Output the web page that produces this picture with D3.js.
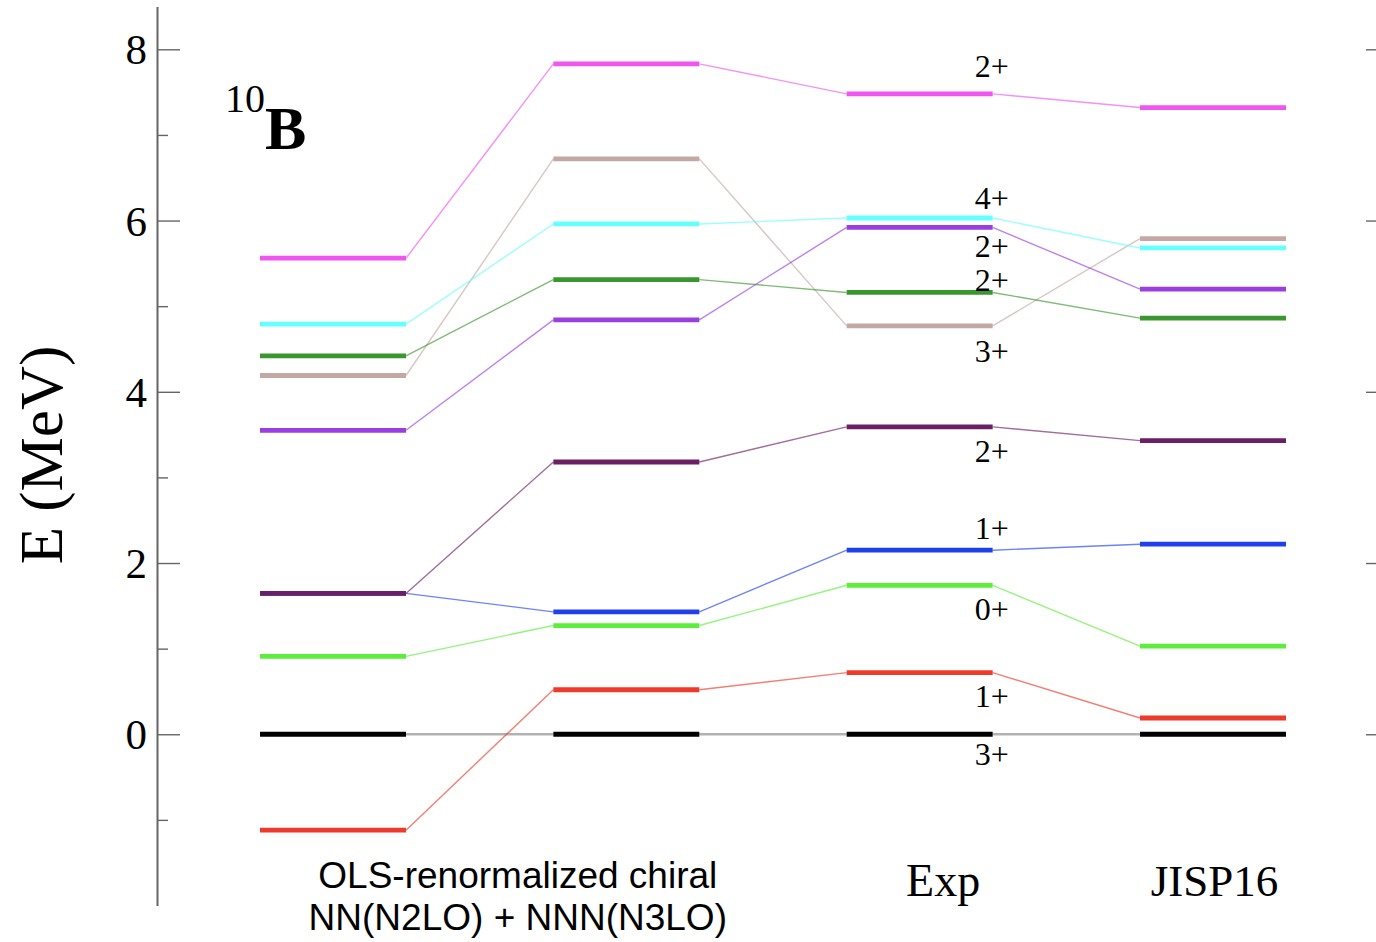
<!DOCTYPE html>
<html>
<head>
<meta charset="utf-8">
<script src="https://cdn.jsdelivr.net/npm/d3@7"></script>
<style>
body { margin: 0; background: #fff; }
svg { display: block; }
text { font-family: "Liberation Serif", "Times New Roman", serif; fill: #000; }
.sans { font-family: "Liberation Sans", Arial, sans-serif; }
.axis path, .axis line { stroke: #666; }
.axis path { stroke-width: 1.6; }
.axis line { stroke-width: 1.4; }
</style>
</head>
<body>
<script>
var width = 1376,
    height = 942;

// excitation energies (MeV), one array per calculation, same state order
var spins  = ["3+", "1+", "0+", "1+", "2+", "3+", "2+", "2+", "4+", "2+"];
var olsA   = [0, -1.12, 0.91, 1.645, 1.645, 4.19, 4.42, 3.55, 4.79, 5.56];
var olsB   = [0, 0.52, 1.27, 1.43, 3.18, 6.72, 5.31, 4.84, 5.96, 7.83];
var expt   = [0, 0.72, 1.74, 2.15, 3.59, 4.77, 5.16, 5.92, 6.03, 7.48];
var jisp16 = [0, 0.19, 1.03, 2.22, 3.43, 5.79, 4.86, 5.20, 5.68, 7.32];

var columns = [olsA, olsB, expt, jisp16];
var majorTicks = [0, 2, 4, 6, 8];
var minorTicks = [-1, 1, 3, 5, 7];

var colors = ["#000000", "#ee3a2a", "#5cee3a", "#2040f0", "#6b2066",
              "#c4a8a4", "#3a962e", "#9a3ee0", "#66ffff", "#f055f0"];

// label offsets next to the Exp levels (px, text centre relative to level)
var labelDy = [21, 24, 25, -21, 25, 26, -11, 20, -19, -27];

var x = d3.scaleLinear().domain([0, 3]).range([333, 1213]),
    y = d3.scaleLinear().domain([-2, 8.5]).range([905.5, 6.5]),
    half = 73;

var svg = d3.select("body").append("svg")
    .attr("width", width)
    .attr("height", height);

// axes
svg.append("g")
    .attr("class", "axis")
    .attr("transform", "translate(157,0)")
    .call(d3.axisLeft(y).tickValues(minorTicks).tickSizeInner(-11).tickSizeOuter(0).tickFormat(""));

var left = svg.append("g")
    .attr("class", "axis")
    .attr("transform", "translate(157,0)")
    .call(d3.axisLeft(y).tickValues(majorTicks).tickSizeInner(-23).tickSizeOuter(0).tickPadding(10));

left.selectAll("text")
    .attr("font-family", "Liberation Serif, serif")
    .attr("font-size", 43)
    .attr("dy", "0.34em")
    .attr("fill", "#000");

var right = svg.append("g")
    .attr("class", "axis")
    .attr("transform", "translate(1389,0)");
right.call(d3.axisRight(y).tickValues(majorTicks).tickSizeInner(-23).tickSizeOuter(0).tickFormat(""));
right.append("g")
    .call(d3.axisRight(y).tickValues(minorTicks).tickSizeInner(-11).tickSizeOuter(0).tickFormat(""));
right.selectAll("path").remove();

svg.append("text")
    .attr("transform", "translate(62,455)rotate(-90)")
    .attr("text-anchor", "middle")
    .attr("font-size", 61)
    .text("E (MeV)");

// connectors between neighbouring columns
var states = d3.range(spins.length);

var links = svg.append("g").selectAll("g")
    .data(states)
  .enter().append("g");

links.selectAll("line")
    .data(function(s) { return d3.range(columns.length - 1).map(function(c) { return [s, c]; }); })
  .enter().append("line")
    .attr("x1", function(d) { return x(d[1]) + half; })
    .attr("x2", function(d) { return x(d[1] + 1) - half; })
    .attr("y1", function(d) { return y(columns[d[1]][d[0]]); })
    .attr("y2", function(d) { return y(columns[d[1] + 1][d[0]]); })
    .attr("stroke", function(d) { return colors[d[0]]; })
    .attr("stroke-opacity", function(d) { return d[0] === 0 ? 0.3 : 0.65; })
    .attr("stroke-width", function(d) { return d[0] === 0 ? 2.5 : 1.4; });

// levels
var levels = svg.append("g").selectAll("g")
    .data(states)
  .enter().append("g");

levels.selectAll("line")
    .data(function(s) { return columns.map(function(col, c) { return [s, c]; }); })
  .enter().append("line")
    .attr("x1", function(d) { return x(d[1]) - half; })
    .attr("x2", function(d) { return x(d[1]) + half; })
    .attr("y1", function(d) { return y(columns[d[1]][d[0]]); })
    .attr("y2", function(d) { return y(columns[d[1]][d[0]]); })
    .attr("stroke", function(d) { return colors[d[0]]; })
    .attr("stroke-width", 4.8);

// spin-parity labels at the Exp column
svg.append("g").selectAll("text")
    .data(states)
  .enter().append("text")
    .attr("x", x(2) + half - 1)
    .attr("y", function(s) { return y(expt[s]) + labelDy[s] + 10; })
    .attr("text-anchor", "middle")
    .attr("font-size", 32)
    .text(function(s) { return spins[s]; });

// nucleus label
var nuc = svg.append("text")
    .attr("x", 225)
    .attr("y", 149);
nuc.append("tspan")
    .attr("font-size", 40)
    .attr("dy", -37)
    .text("10");
nuc.append("tspan")
    .attr("font-size", 62)
    .attr("font-weight", "bold")
    .attr("dy", 37)
    .text("B");

// column captions
var chiral = svg.append("text")
    .attr("class", "sans")
    .attr("text-anchor", "middle")
    .attr("font-size", 37);
chiral.append("tspan").attr("x", x(0.63)).attr("y", 888).text("OLS-renormalized chiral");
chiral.append("tspan").attr("x", x(0.63)).attr("y", 930).text("NN(N2LO) + NNN(N3LO)");

svg.append("text")
    .attr("x", x(2.08))
    .attr("y", 896)
    .attr("text-anchor", "middle")
    .attr("font-size", 46)
    .text("Exp");

svg.append("text")
    .attr("x", x(3.005))
    .attr("y", 896)
    .attr("text-anchor", "middle")
    .attr("font-size", 45)
    .text("JISP16");
</script>
</body>
</html>
